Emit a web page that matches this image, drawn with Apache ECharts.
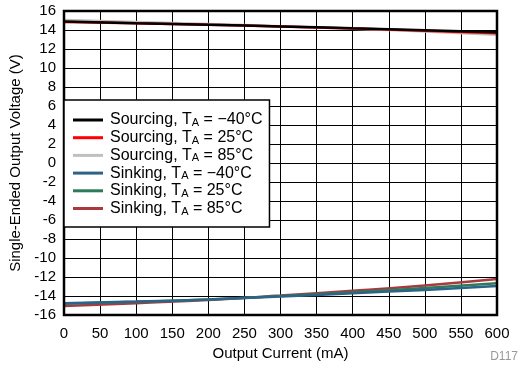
<!DOCTYPE html>
<html>
<head>
<meta charset="utf-8">
<script src="https://cdn.jsdelivr.net/npm/echarts@6/dist/echarts.min.js"></script>
<style>
  html, body { margin: 0; padding: 0; background: #fff; }
  #chart { width: 520px; height: 366px; }
</style>
</head>
<body>
<div id="chart"></div>
<script>
// output current (mA)
const currents = [0, 100, 200, 300, 400, 500, 600]

// sourcing output voltage (V)
const srcM40 = [14.9, 14.72, 14.55, 14.38, 14.18, 13.98, 13.76]
const src25 = [14.85, 14.7, 14.54, 14.38, 14.15, 13.93, 13.66]
const src85 = [15.05, 14.85, 14.64, 14.4, 14.14, 13.85, 13.5]

// sinking output voltage (V)
const snkM40 = [-14.75, -14.58, -14.35, -14.05, -13.7, -13.35, -12.95]
const snk25 = [-14.8, -14.6, -14.35, -14.0, -13.6, -13.15, -12.65]
const snk85 = [-15.05, -14.75, -14.4, -13.95, -13.45, -12.88, -12.2]

const names = [
    'Sourcing, T{s|A} = \u221240\u00b0C',
    'Sourcing, T{s|A} = 25\u00b0C',
    'Sourcing, T{s|A} = 85\u00b0C',
    'Sinking, T{s|A} = \u221240\u00b0C',
    'Sinking, T{s|A} = 25\u00b0C',
    'Sinking, T{s|A} = 85\u00b0C'
]
const colors = ['#000000', '#ff0000', '#c0c0c0', '#2b6488', '#2f7a58', '#a83a3f']
const allData = [srcM40, src25, src85, snkM40, snk25, snk85]

const font = 'Liberation Sans, Arial, Helvetica, sans-serif'
const chart = echarts.init(document.getElementById('chart'))

chart.setOption({
    animation: false,
    textStyle: { fontFamily: font },
    grid: {
        left: 64, right: 23, top: 11, bottom: 50,
        show: true, borderColor: '#000', borderWidth: 2.5, z: 10
    },
    xAxis: {
        type: 'value', min: 0, max: 600, interval: 50,
        name: 'Output Current (mA)', nameLocation: 'middle', nameGap: 28,
        nameTextStyle: { fontSize: 15, color: '#000', fontFamily: font },
        axisLine: { show: false },
        axisTick: { show: false },
        axisLabel: { fontSize: 15, color: '#000', margin: 11, fontFamily: font },
        splitLine: { lineStyle: { color: '#000', width: 1 } }
    },
    yAxis: {
        type: 'value', min: -16, max: 16, interval: 2,
        name: 'Single-Ended Output Voltage (V)', nameLocation: 'middle', nameGap: 34,
        nameTextStyle: { fontSize: 15, color: '#000', fontFamily: font },
        axisLine: { show: false },
        axisTick: { show: false },
        axisLabel: { fontSize: 15, color: '#000', margin: 8, fontFamily: font },
        splitLine: { lineStyle: { color: '#000', width: 1 } }
    },
    legend: {
        left: 64, top: 100,
        orient: 'vertical',
        backgroundColor: '#fff',
        borderColor: '#000', borderWidth: 1.5, borderRadius: 0,
        padding: [12, 7, 10, 9],
        icon: 'rect',
        itemWidth: 30, itemHeight: 3, itemGap: 1.2,
        z: 20,
        textStyle: {
            fontSize: 16, color: '#000', fontFamily: font, padding: [0, 0, 0, 2],
            rich: { s: { fontSize: 11, padding: [6, 0, 0, 0], fontFamily: font, color: '#000' } }
        },
        data: names
    },
    graphic: [{
        type: 'text', right: 2, bottom: 3,
        style: { text: 'D117', fontSize: 12, fill: '#999', fontFamily: font }
    }],
    series: names.map((n, i) => ({
        name: n,
        type: 'line',
        smooth: true,
        symbol: 'none',
        data: currents.map((c, j) => [c, allData[i][j]]),
        lineStyle: { color: colors[i], width: 2.5 },
        itemStyle: { color: colors[i] },
        z: i < 3 ? 3 - i : 6 - i
    }))
})
</script>
</body>
</html>
